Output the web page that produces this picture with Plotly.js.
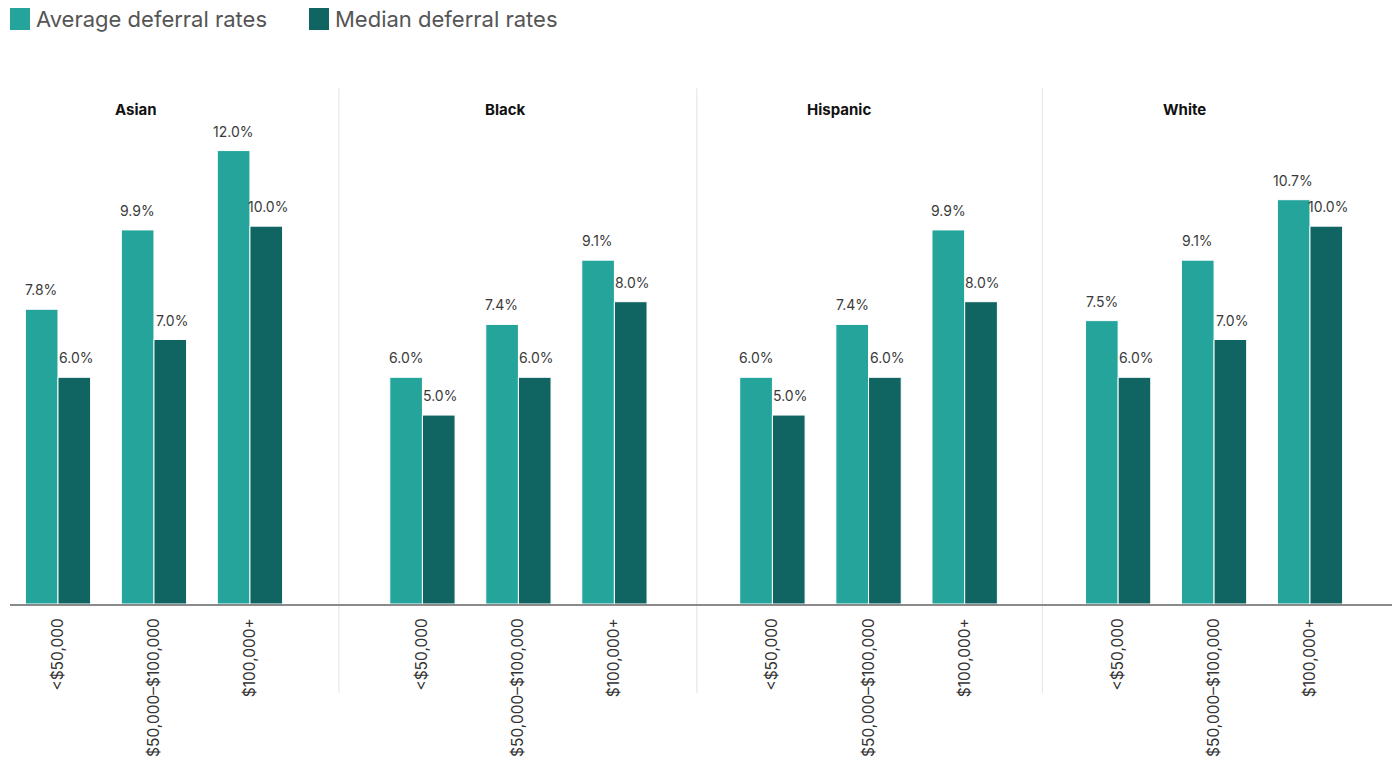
<!DOCTYPE html>
<html>
<head>
<meta charset="utf-8">
<script src="https://cdn.plot.ly/plotly-3.0.1.min.js"></script>
<style>html,body{margin:0;padding:0;background:#fff;}#chart{width:1398px;height:766px;}</style>
</head>
<body>
<div id="chart"></div>
<script>
// ---- data ----
const groups = ["Asian", "Black", "Hispanic", "White"];
const incomeBands = ["<$50,000", "$50,000–$100,000", "$100,000+"];
const averageRates = {
  Asian:    [7.8, 9.9, 12.0],
  Black:    [6.0, 7.4, 9.1],
  Hispanic: [6.0, 7.4, 9.9],
  White:    [7.5, 9.1, 10.7]
};
const medianRates = {
  Asian:    [6.0, 7.0, 10.0],
  Black:    [5.0, 6.0, 8.0],
  Hispanic: [5.0, 6.0, 8.0],
  White:    [6.0, 7.0, 10.0]
};
const seriesNames = ["Average deferral rates", "Median deferral rates"];

// ---- style / layout ----
const colAvg = "#25a49c";
const colMed = "#106562";
const FONT = "Inter, 'Open Sans', sans-serif";
const domains = [[0, 0.238], [0.238, 0.497], [0.497, 0.747], [0.747, 1]];
const ranges = [[-0.5, 2.927], [-0.87, 2.859], [-0.786, 2.808], [-0.79, 2.855]];
const titleX = [0.0912, 0.3582, 0.5999, 0.8502];

const traces = [];
const annotations = [];
const shapes = [];
const layout = {
  width: 1398, height: 766,
  margin: {l: 10, r: 6, t: 75, b: 162},
  paper_bgcolor: "#fff", plot_bgcolor: "#fff",
  font: {family: FONT, color: "#333", size: 14},
  barmode: "group", bargap: 0.32, bargroupgap: 0,
  showlegend: false,
  yaxis: {range: [0, 14], showgrid: false, zeroline: false, showticklabels: false,
          ticks: "", showline: false, fixedrange: true},
  annotations: annotations, shapes: shapes
};

// custom legend (large square swatches like the reference)
const legendItems = [
  {name: seriesNames[0], color: colAvg, x0: 10, tx: 34},
  {name: seriesNames[1], color: colMed, x0: 309, tx: 333}
];
legendItems.forEach(it => {
  shapes.push({type: "rect", xref: "paper", yref: "paper", xsizemode: "pixel", ysizemode: "pixel",
    xanchor: 0, yanchor: 1, x0: it.x0 - 10, x1: it.x0 + 10, y0: 75 - 8, y1: 75 - 30,
    fillcolor: it.color, line: {width: 0}});
  annotations.push({xref: "paper", yref: "paper", x: (it.tx - 10) / 1382, y: 1 + (75 - 19) / 529,
    xanchor: "left", yanchor: "middle", showarrow: false, text: it.name,
    font: {size: 22, color: "#555", family: FONT}});
});

groups.forEach((g, p) => {
  const sfx = p === 0 ? "" : String(p + 1);
  const xa = "x" + sfx;
  traces.push({
    type: "bar", name: seriesNames[0], x: incomeBands, y: averageRates[g],
    xaxis: xa, yaxis: "y", marker: {color: colAvg, line: {color: "#fff", width: 1}},
    hoverinfo: "y", cliponaxis: false
  });
  traces.push({
    type: "bar", name: seriesNames[1], x: incomeBands, y: medianRates[g],
    xaxis: xa, yaxis: "y", marker: {color: colMed, line: {color: "#fff", width: 1}},
    hoverinfo: "y", cliponaxis: false
  });
  layout["xaxis" + sfx] = {
    domain: domains[p], range: ranges[p], anchor: "y", type: "category",
    showgrid: false, zeroline: false, showline: true, linecolor: "#8a8a8a", linewidth: 2,
    ticks: "", tickangle: -90, ticklabelstandoff: 6,
    tickfont: {size: 15.5, color: "#333", family: FONT}, fixedrange: true
  };
  incomeBands.forEach((c, i) => {
    annotations.push({xref: xa, yref: "y", x: c, y: averageRates[g][i], xshift: -16.5, yshift: 9,
      text: averageRates[g][i].toFixed(1) + "%", showarrow: false, yanchor: "bottom",
      font: {size: 14, color: "#3a3a3a", family: FONT}});
    annotations.push({xref: xa, yref: "y", x: c, y: medianRates[g][i], xshift: 18, yshift: 9,
      text: medianRates[g][i].toFixed(1) + "%", showarrow: false, yanchor: "bottom",
      font: {size: 14, color: "#3a3a3a", family: FONT}});
  });
  annotations.push({xref: "paper", yref: "paper", x: titleX[p], y: 0.934, text: "<b>" + g + "</b>",
    showarrow: false, xanchor: "center", yanchor: "middle", font: {size: 15, color: "#111", family: FONT}});
  if (p > 0) {
    shapes.push({type: "line", xref: "paper", yref: "paper", x0: domains[p][0], x1: domains[p][0],
      y0: -0.168, y1: 0.975, line: {color: "#e3e3e3", width: 1}, layer: "below"});
  }
});

Plotly.newPlot("chart", traces, layout, {displayModeBar: false, staticPlot: true});
</script>
</body>
</html>
